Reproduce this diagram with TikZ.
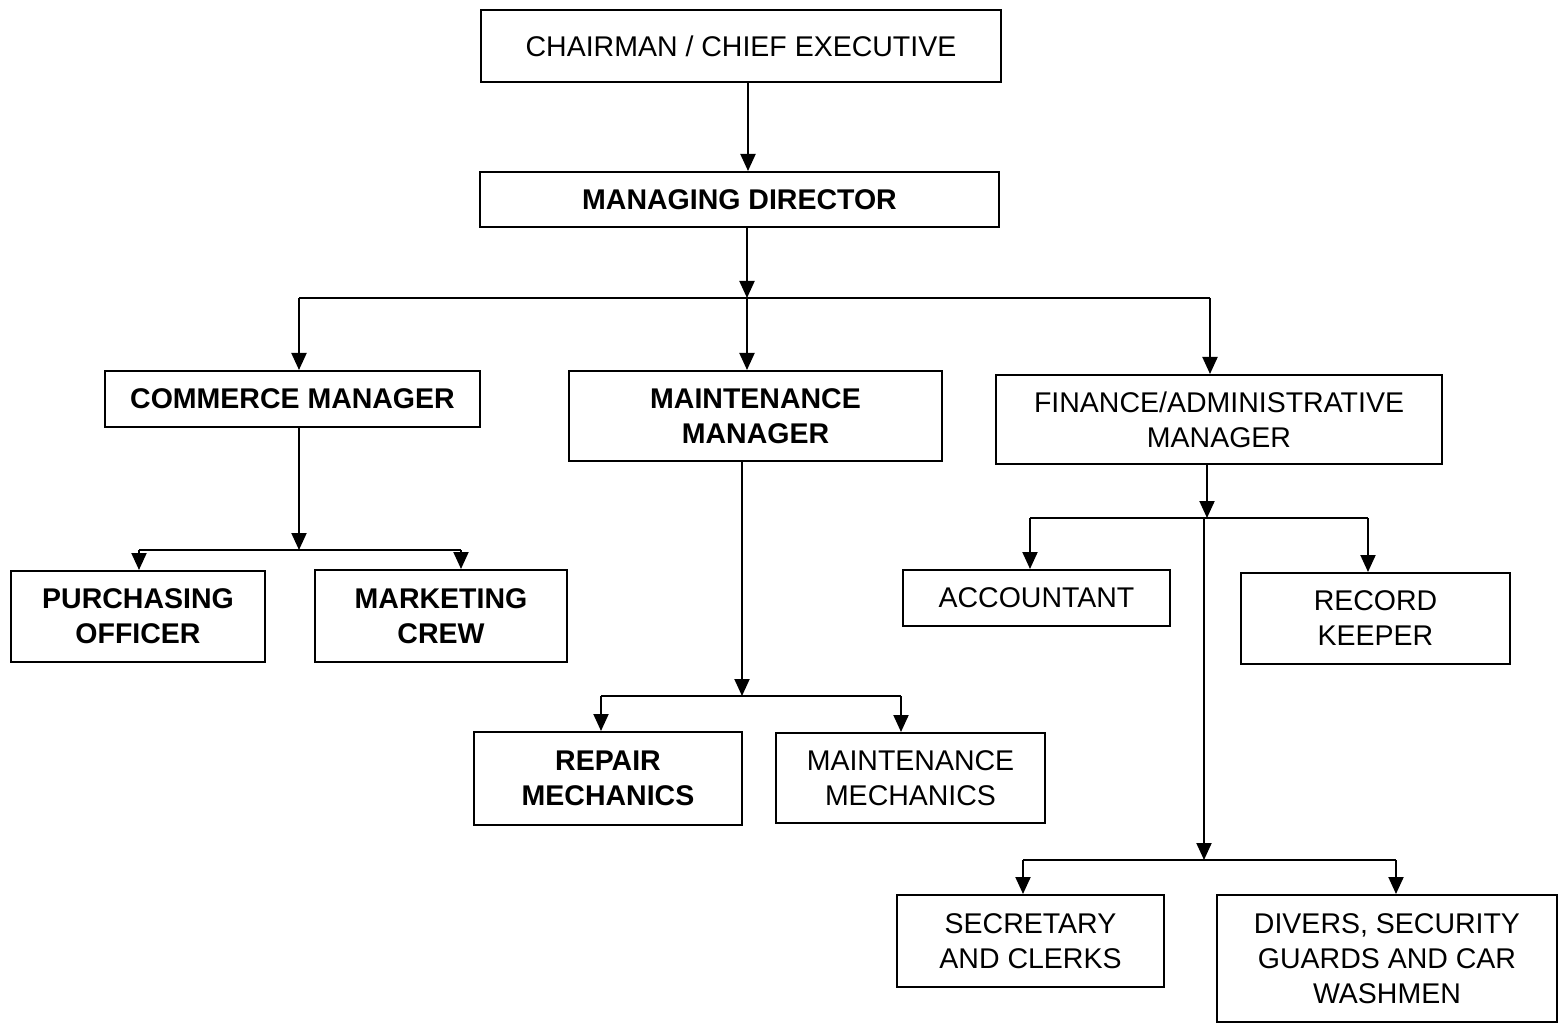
\documentclass[tikz,border=0pt]{standalone}
\usepackage{fontspec}
\setmainfont{Liberation Sans}
\usetikzlibrary{arrows.meta}
\begin{document}
\begin{tikzpicture}[x=1pt,y=-1pt,
  box/.style={draw,line width=2pt,inner sep=0pt,align=center,font=\fontsize{28.5}{35}\selectfont},
  bbox/.style={box,font=\fontsize{28.5}{35}\selectfont\bfseries},
  arr/.style={line width=2pt,-{Triangle[length=17pt,width=15pt]}},
  ln/.style={line width=2pt}]
\useasboundingbox (0,0) rectangle (1559,1024);
\fill[white] (0,0) rectangle (1559,1024);
% nodes
\node[box,minimum width=520,minimum height=72] (chair) at (741,46) {CHAIRMAN / CHIEF EXECUTIVE};
\node[bbox,minimum width=519,minimum height=55] (md) at (739.5,199.5) {MANAGING DIRECTOR};
\node[bbox,minimum width=375,minimum height=56] (com) at (292.5,399) {COMMERCE MANAGER};
\node[bbox,minimum width=373,minimum height=90] (mm) at (755.5,416) {MAINTENANCE\\MANAGER};
\node[box,minimum width=446,minimum height=89] (fin) at (1219,419.5) {FINANCE/ADMINISTRATIVE\\MANAGER};
\node[bbox,minimum width=254,minimum height=91] (po) at (138,616.5) {PURCHASING\\OFFICER};
\node[bbox,minimum width=252,minimum height=92] (mc) at (441,616) {MARKETING\\CREW};
\node[bbox,minimum width=268,minimum height=93] (rm) at (608,778.5) {REPAIR\\MECHANICS};
\node[box,minimum width=269,minimum height=90] (mmech) at (910.5,778) {MAINTENANCE\\MECHANICS};
\node[box,minimum width=267,minimum height=56] (acc) at (1036.5,598) {ACCOUNTANT};
\node[box,minimum width=269,minimum height=91] (rk) at (1375.5,618.5) {RECORD\\KEEPER};
\node[box,minimum width=267,minimum height=92] (sc) at (1030.5,941) {SECRETARY\\AND CLERKS};
\node[box,minimum width=340,minimum height=127] (dv) at (1387,958.5) {DIVERS, SECURITY\\GUARDS AND CAR\\WASHMEN};
% coordinates
\coordinate (c0) at (748,0);
\coordinate (b1) at (747,298);
\coordinate (b1l) at (299,298);
\coordinate (b1r) at (1210,298);
\coordinate (b2) at (299,550);
\coordinate (b2l) at (139,550);
\coordinate (b2r) at (461,550);
\coordinate (b3) at (742,696);
\coordinate (b3l) at (601,696);
\coordinate (b3r) at (901,696);
\coordinate (b4) at (1207,518);
\coordinate (b4l) at (1030,518);
\coordinate (b4r) at (1368,518);
\coordinate (b5) at (1204,860);
\coordinate (b5l) at (1023,860);
\coordinate (b5r) at (1396,860);
% connectors
\draw[arr] (chair.south -| c0) -- (md.north -| c0);
\draw[arr] (md.south -| b1) -- (b1);
\draw[ln] (b1l) -- (b1r);
\draw[arr] (b1l) -- (com.north -| b1l);
\draw[arr] (b1) -- (mm.north -| b1);
\draw[arr] (b1r) -- (fin.north -| b1r);
\draw[arr] (com.south -| b2) -- (b2);
\draw[ln] (b2l) -- (b2r);
\draw[arr] (b2l) -- (po.north -| b2l);
\draw[arr] (b2r) -- (mc.north -| b2r);
\draw[arr] (mm.south -| b3) -- (b3);
\draw[ln] (b3l) -- (b3r);
\draw[arr] (b3l) -- (rm.north -| b3l);
\draw[arr] (b3r) -- (mmech.north -| b3r);
\draw[arr] (fin.south -| b4) -- (b4);
\draw[ln] (b4l) -- (b4r);
\draw[arr] (b4l) -- (acc.north -| b4l);
\draw[arr] (b4r) -- (rk.north -| b4r);
\draw[arr] (b4 -| b5) -- (b5);
\draw[ln] (b5l) -- (b5r);
\draw[arr] (b5l) -- (sc.north -| b5l);
\draw[arr] (b5r) -- (dv.north -| b5r);
\end{tikzpicture}
\end{document}
